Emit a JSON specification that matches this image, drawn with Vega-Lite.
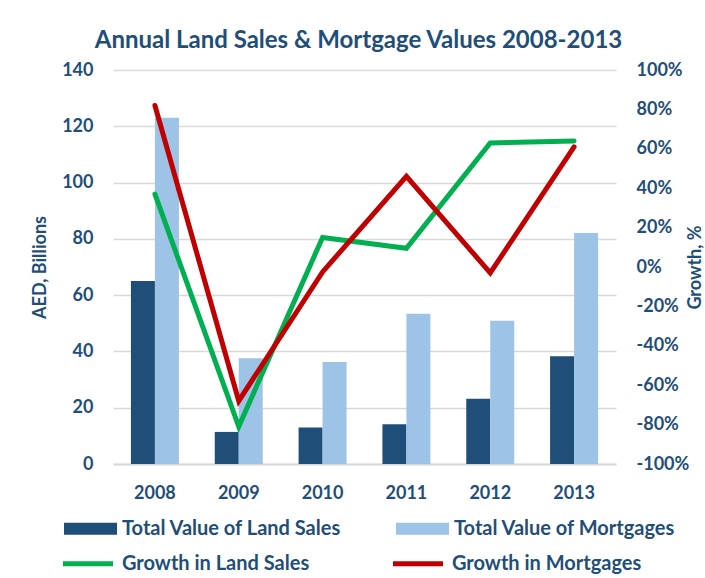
{
  "$schema": "https://vega.github.io/schema/vega-lite/v6.json",
  "width": 503,
  "height": 394,
  "autosize": {"type": "none"},
  "padding": {"left": 113, "top": 70, "right": 89, "bottom": 114},
  "background": "white",
  "title": {
    "text": "Annual Land Sales & Mortgage Values 2008-2013",
    "font": "Lato",
    "fontSize": 24,
    "fontWeight": "bold",
    "color": "#1F4E79",
    "anchor": "middle",
    "offset": 8,
    "dx": -6
  },
  "config": {
    "view": {"stroke": null},
    "font": "Lato"
  },
  "datasets": {
    "bars": [
      {"year": "2008", "series": "Total Value of Land Sales", "value": 65.0},
      {"year": "2008", "series": "Total Value of Mortgages", "value": 123.0},
      {"year": "2009", "series": "Total Value of Land Sales", "value": 11.4},
      {"year": "2009", "series": "Total Value of Mortgages", "value": 37.6},
      {"year": "2010", "series": "Total Value of Land Sales", "value": 13.0},
      {"year": "2010", "series": "Total Value of Mortgages", "value": 36.2},
      {"year": "2011", "series": "Total Value of Land Sales", "value": 14.1},
      {"year": "2011", "series": "Total Value of Mortgages", "value": 53.4},
      {"year": "2012", "series": "Total Value of Land Sales", "value": 23.2},
      {"year": "2012", "series": "Total Value of Mortgages", "value": 50.9},
      {"year": "2013", "series": "Total Value of Land Sales", "value": 38.3},
      {"year": "2013", "series": "Total Value of Mortgages", "value": 82.1}
    ],
    "lines": [
      {"year": "2008", "series": "Growth in Land Sales", "growth": 37},
      {"year": "2009", "series": "Growth in Land Sales", "growth": -81},
      {"year": "2010", "series": "Growth in Land Sales", "growth": 15},
      {"year": "2011", "series": "Growth in Land Sales", "growth": 9.5},
      {"year": "2012", "series": "Growth in Land Sales", "growth": 63},
      {"year": "2013", "series": "Growth in Land Sales", "growth": 64},
      {"year": "2008", "series": "Growth in Mortgages", "growth": 82},
      {"year": "2009", "series": "Growth in Mortgages", "growth": -68},
      {"year": "2010", "series": "Growth in Mortgages", "growth": -2.5},
      {"year": "2011", "series": "Growth in Mortgages", "growth": 46},
      {"year": "2012", "series": "Growth in Mortgages", "growth": -3},
      {"year": "2013", "series": "Growth in Mortgages", "growth": 61}
    ]
  },
  "layer": [
    {
      "data": {"name": "bars"},
      "layer": [
        {
          "transform": [{"filter": "datum.series === 'Total Value of Land Sales'"}],
          "mark": {"type": "bar", "width": 24, "xOffset": -12}
        },
        {
          "transform": [{"filter": "datum.series === 'Total Value of Mortgages'"}],
          "mark": {"type": "bar", "width": 24, "xOffset": 12}
        }
      ],
      "encoding": {
        "x": {
          "field": "year",
          "type": "nominal",
          "scale": {"paddingInner": 0.43, "paddingOuter": 0.215},
          "axis": {
            "title": null,
            "labelAngle": 0,
            "labelFont": "Lato",
            "labelFontSize": 18,
            "labelFontWeight": "bold",
            "labelColor": "#1F4E79",
            "labelPadding": 20,
            "ticks": false,
            "domain": true,
            "domainColor": "#D9D9D9",
            "domainWidth": 2
          }
        },
        "y": {
          "field": "value",
          "type": "quantitative",
          "scale": {"domain": [0, 140], "nice": false},
          "axis": {
            "title": "AED, Billions",
            "values": [0, 20, 40, 60, 80, 100, 120, 140],
            "grid": true,
            "gridColor": "#D9D9D9",
            "gridWidth": 1.5,
            "domain": false,
            "ticks": false,
            "labelFont": "Lato",
            "labelFontSize": 18,
            "labelFontWeight": "bold",
            "labelColor": "#1F4E79",
            "labelPadding": 20,
            "titleFont": "Lato",
            "titleFontSize": 18,
            "titleFontWeight": "bold",
            "titleColor": "#1F4E79",
            "titlePadding": 12
          }
        },
        "color": {
          "field": "series",
          "type": "nominal",
          "scale": {
            "domain": ["Total Value of Land Sales", "Total Value of Mortgages"],
            "range": ["#1F4E79", "#9DC3E6"]
          },
          "legend": {
            "title": null,
            "orient": "none",
            "legendX": -49,
            "legendY": 432,
            "direction": "horizontal",
            "columns": 2,
            "columnPadding": 54,
            "symbolType": "M-1,-0.226H1V0.226H-1Z",
            "symbolSize": 2809,
            "symbolStrokeWidth": 0,
            "symbolOpacity": 1,
            "labelOffset": 5,
            "labelFont": "Lato",
            "labelFontSize": 20,
            "labelFontWeight": "bold",
            "labelColor": "#1F4E79",
            "labelLimit": 400
          }
        }
      }
    },
    {
      "data": {"name": "lines"},
      "mark": {"type": "line", "strokeWidth": 5, "strokeCap": "round"},
      "encoding": {
        "x": {"field": "year", "type": "nominal"},
        "y": {
          "field": "growth",
          "type": "quantitative",
          "scale": {"domain": [-100, 100], "nice": false},
          "axis": {
            "orient": "right",
            "title": "Growth, %",
            "values": [-100, -80, -60, -40, -20, 0, 20, 40, 60, 80, 100],
            "labelExpr": "datum.value + '%'",
            "grid": false,
            "domain": false,
            "ticks": false,
            "labelFont": "Lato",
            "labelFontSize": 18,
            "labelFontWeight": "bold",
            "labelColor": "#1F4E79",
            "labelPadding": 20,
            "titleFont": "Lato",
            "titleFontSize": 18,
            "titleFontWeight": "bold",
            "titleColor": "#1F4E79",
            "titleAngle": 270,
            "titleBaseline": "top",
            "titlePadding": -2
          }
        },
        "color": {
          "field": "series",
          "type": "nominal",
          "scale": {
            "domain": ["Growth in Land Sales", "Growth in Mortgages"],
            "range": ["#00B050", "#C00000"]
          },
          "legend": {
            "title": null,
            "orient": "none",
            "legendX": -52.5,
            "legendY": 466,
            "direction": "horizontal",
            "columns": 2,
            "columnPadding": 73,
            "symbolType": "stroke",
            "symbolSize": 2500,
            "symbolStrokeWidth": 5,
            "symbolOpacity": 1,
            "labelOffset": 6.5,
            "labelFont": "Lato",
            "labelFontSize": 20,
            "labelFontWeight": "bold",
            "labelColor": "#1F4E79",
            "labelLimit": 400
          }
        }
      }
    }
  ],
  "resolve": {"scale": {"y": "independent", "color": "independent"}}
}
